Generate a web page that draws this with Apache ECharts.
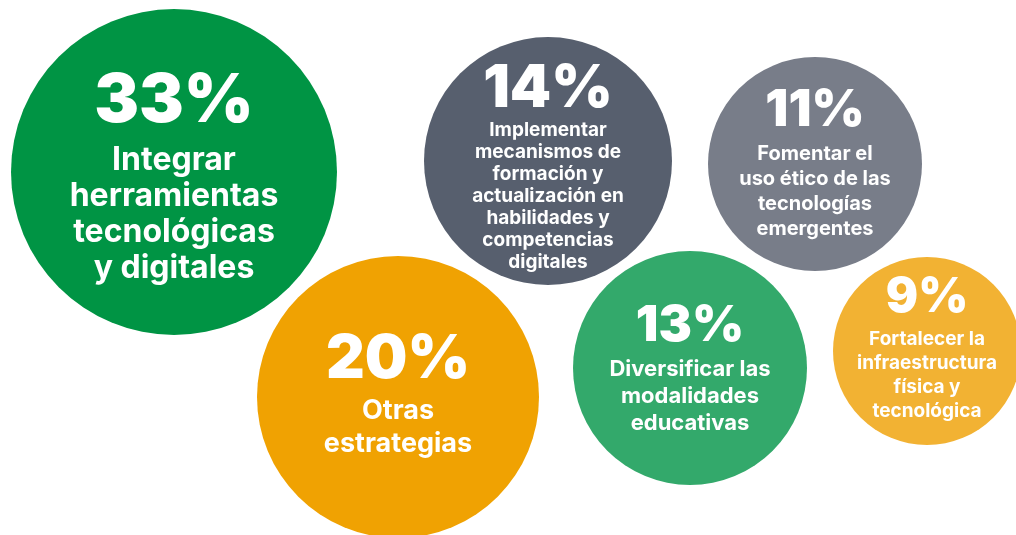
<!DOCTYPE html>
<html>
<head>
<meta charset="utf-8">
<script src="https://cdn.jsdelivr.net/npm/echarts@6/dist/echarts.min.js"></script>
<style>
    html, body { margin: 0; padding: 0; background: #fff; }
    #bubbleChart { width: 1016px; height: 535px; }
</style>
</head>
<body>
<div id="bubbleChart"></div>
<script>
// datos
const categories = [
    'Integrar\nherramientas\ntecnológicas\ny digitales',
    'Otras\nestrategias',
    'Implementar\nmecanismos de\nformación y\nactualización en\nhabilidades y\ncompetencias\ndigitales',
    'Fomentar el\nuso ético de las\ntecnologías\nemergentes',
    'Diversificar las\nmodalidades\neducativas',
    'Fortalecer la\ninfraestructura\nfísica y\ntecnológica'
];
const percentages = [33, 20, 14, 11, 13, 9];

// posición de cada burbuja (px), tamaño y estilo del texto
const bubbleLayout = [
    { x: 174, y: 172, r: 163, color: '#009444', pSize: 67, pLine: 80, tSize: 32, tLine: 36, dy: 2 },
    { x: 398, y: 397, r: 141, color: '#F0A202', pSize: 60, pLine: 69, tSize: 27, tLine: 33, dy: -4 },
    { x: 548, y: 161, r: 124, color: '#575F6E', pSize: 59, pLine: 61, tSize: 19, tLine: 22, dy: 5 },
    { x: 815, y: 164, r: 107, color: '#787D89', pSize: 51, pLine: 61, tSize: 20, tLine: 25, dy: -3 },
    { x: 690, y: 368, r: 117, color: '#33A96B', pSize: 50, pLine: 60, tSize: 22, tLine: 27, dy: -2 },
    { x: 927, y: 351, r: 94, color: '#F2B233', pSize: 48, pLine: 58, tSize: 19, tLine: 24, dy: -5 }
];

const seriesData = percentages.map((val, i) => {
    const lay = bubbleLayout[i];
    const lines = categories[i].split('\n').map((s) => '{t|' + s + '}').join('\n');
    return {
        value: [lay.x, lay.y, val],
        symbolSize: lay.r * 2,
        itemStyle: { color: lay.color },
        label: {
            show: true,
            position: 'inside',
            offset: [0, lay.dy],
            formatter: '{p|' + val + '%}\n' + lines,
            rich: {
                p: {
                    fontFamily: 'Inter',
                    fontWeight: 900,
                    fontSize: lay.pSize,
                    lineHeight: lay.pLine,
                    color: '#fff',
                    align: 'center'
                },
                t: {
                    fontFamily: 'Inter',
                    fontWeight: 700,
                    fontSize: lay.tSize,
                    lineHeight: lay.tLine,
                    color: '#fff',
                    align: 'center'
                }
            }
        }
    };
});

const option = {
    animation: false,
    grid: { left: 0, right: 0, top: 0, bottom: 0 },
    xAxis: { type: 'value', min: 0, max: 1016, show: false },
    yAxis: { type: 'value', min: 0, max: 535, inverse: true, show: false },
    series: [
        {
            type: 'scatter',
            data: seriesData,
            itemStyle: { opacity: 1 },
            emphasis: { disabled: true }
        }
    ]
};

let myChart = echarts.init(document.getElementById('bubbleChart'));
myChart.setOption(option);
</script>
</body>
</html>
